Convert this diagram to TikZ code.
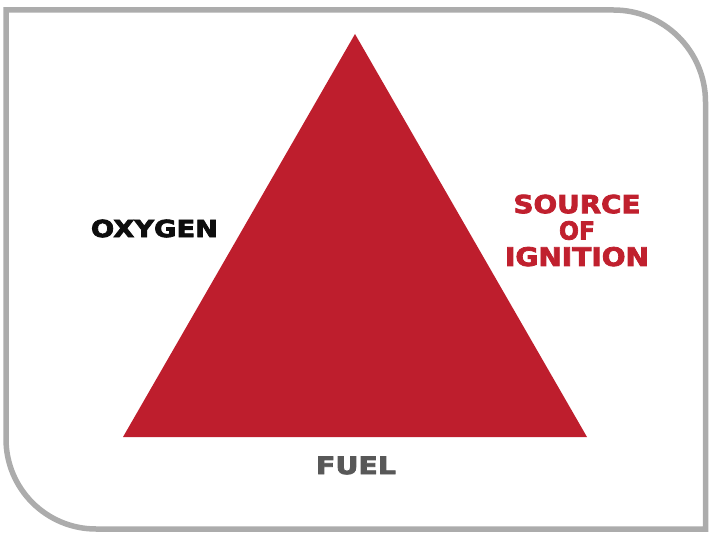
\documentclass[tikz,border=0pt]{standalone}
\usepackage{fontspec}
\setmainfont{DejaVu Sans}[BoldFeatures={FakeBold=3}]
\definecolor{firered}{RGB}{190,30,45}
\definecolor{labelred}{RGB}{192,32,46}
\definecolor{framegray}{RGB}{172,172,172}
\definecolor{fuelgray}{RGB}{88,88,88}
\newcommand\fitlabel[3]{\resizebox{#1bp}{#2bp}{\bfseries #3}}
\begin{document}
\begin{tikzpicture}[x=1bp,y=-1bp,
  frameline/.style={draw=framegray,line width=5.5bp,line join=miter},
  triangle/.style={fill=firered},
  label/.style={inner sep=0pt,align=center,font=\fontsize{20}{26.5}\selectfont}]
\useasboundingbox (0,0) rectangle (716,539);
% frame
\draw[frameline] (6,10) -- (613.5,10) arc[start angle=270,end angle=360,radius=92]
  -- (705.5,529) -- (96,529) arc[start angle=90,end angle=180,radius=90] -- cycle;
% triangle
\coordinate (apex) at (355,34);
\coordinate (bl) at (123,437);
\coordinate (br) at (587,437);
\fill[triangle] (apex) -- (bl) -- (br) -- cycle;
% labels
\node[label,text=black!95] (oxygen) at (154.5,228.5) {\fitlabel{127}{17.5}{OXYGEN}};
\node[label,text=labelred] (ignition) at (577,230.5)
  {\fitlabel{127}{18.5}{SOURCE}\\\fitlabel{36}{18.5}{OF}\\\fitlabel{144}{19}{IGNITION}};
\node[label,text=fuelgray] (fuel) at (356,465.5) {\fitlabel{80}{17.5}{FUEL}};
\end{tikzpicture}
\end{document}
